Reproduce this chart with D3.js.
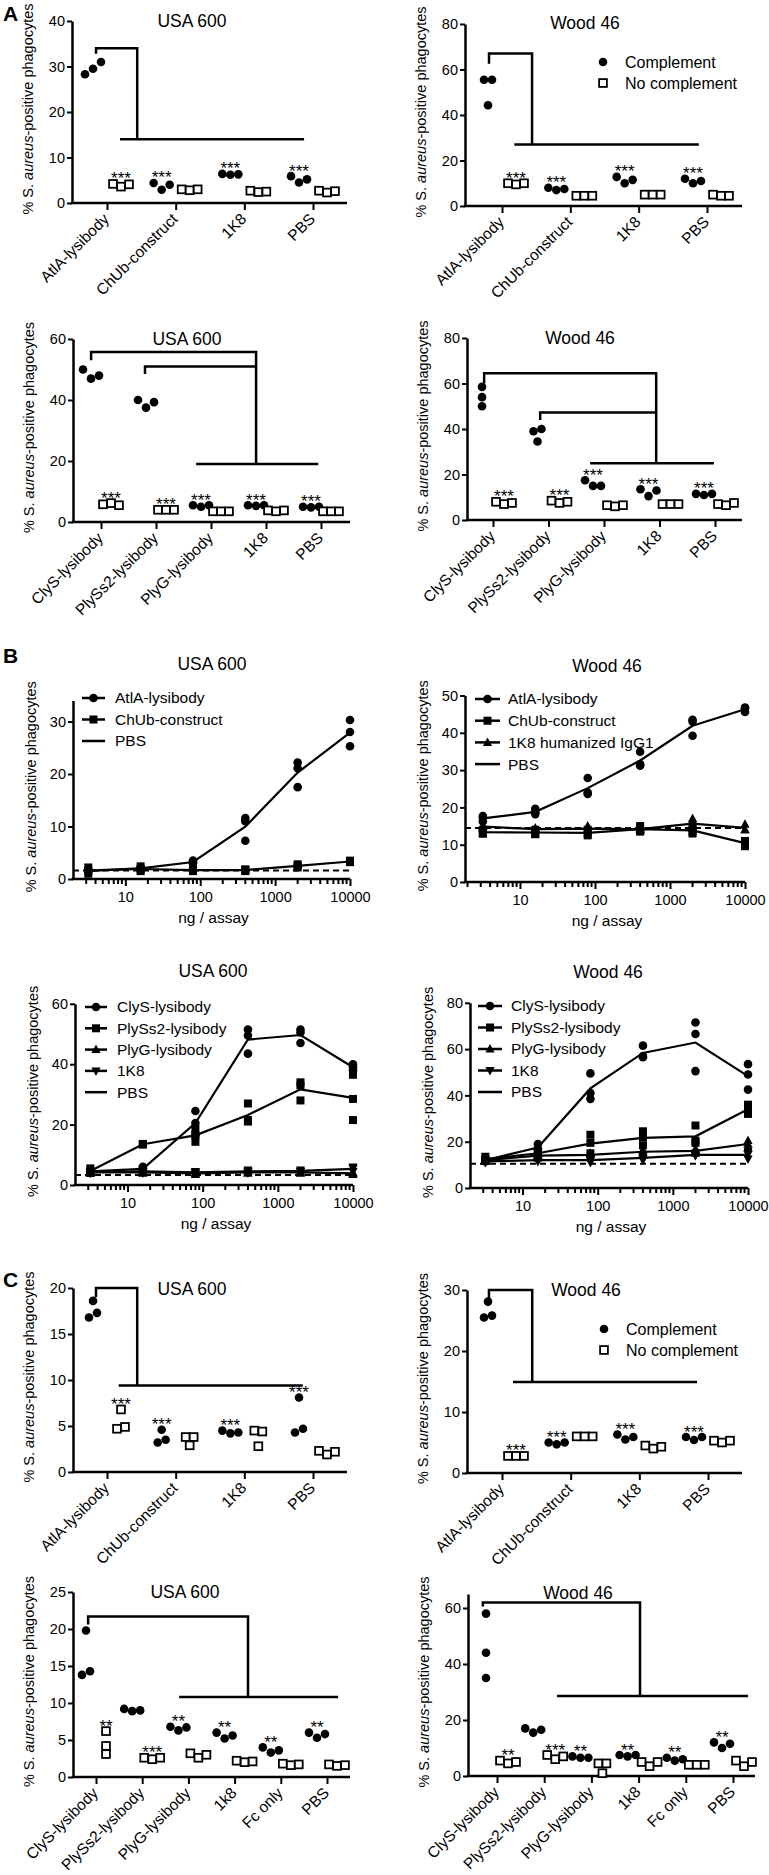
<!DOCTYPE html>
<html><head><meta charset="utf-8">
<script src="https://cdn.jsdelivr.net/npm/d3@7"></script>
<style>
body{margin:0;background:#fff}
svg{display:block}
text{font-family:"Liberation Sans",Arial,Helvetica,sans-serif;fill:#000}
</style>
</head><body>
<svg id="c" width="769" height="1875"></svg>
<script>
// ---------------- DATA ----------------
const catsAtl = ["AtlA-lysibody","ChUb-construct","1K8","PBS"];
const catsLys = ["ClyS-lysibody","PlySs2-lysibody","PlyG-lysibody","1K8","PBS"];
const catsLysC = ["ClyS-lysibody","PlySs2-lysibody","PlyG-lysibody","1k8","Fc only","PBS"];
const legendScatter = ["Complement","No complement"];

// A top-left USA 600
const a1Ticks = [0,10,20,30,40];
const a1Comp = [[28.3,29.5,31.0],[4.4,2.9,4.0],[6.4,6.2,6.3],[5.9,4.5,5.2]];
const a1NoComp = [[4.2,3.6,4.1],[3.0,2.8,3.0],[2.7,2.4,2.5],[2.7,2.3,2.6]];
const a1StarSide = ["n","c","c","c"];
const a1StarText = ["***","***","***","***"];
const a1Brackets = [[[-0.16,32.8],[-0.16,34],[0.44,34],[0.44,14]],[[0.19,14],[2.87,14]]];
// A top-right Wood 46
const a2Ticks = [0,20,40,60,80];
const a2Comp = [[55.5,44.3,55.5],[8.0,7.0,7.5],[12.8,10.0,11.5],[12.0,10.0,11.0]];
const a2NoComp = [[10.0,9.5,10.0],[4.5,4.5,4.5],[5.0,5.0,5.0],[5.0,4.5,4.5]];
const a2StarSide = ["n","c","c","c"];
const a2StarText = ["***","***","***","***"];
const a2Brackets = [[[-0.19,62.5],[-0.19,67],[0.44,67],[0.44,27]],[[0.18,27],[2.88,27]]];
// A bottom-left USA 600
const a3Ticks = [0,20,40,60];
const a3Comp = [[50,47,48],[40,37.5,39.3],[5.5,5.0,5.5],[5.5,5.3,5.5],[5.0,4.8,5.0]];
const a3NoComp = [[5.8,6.2,5.5],[4.0,4.0,4.0],[3.5,3.5,3.5],[3.8,3.5,3.8],[3.5,3.5,3.5]];
const a3StarSide = ["n","n","c","c","c"];
const a3StarText = ["***","***","***","***","***"];
const a3Brackets = [[[-0.18,53],[-0.18,55.7],[2.82,55.7],[2.82,19]],[[0.8,48.5],[0.8,51],[2.82,51]],[[1.73,19],[3.95,19]]];
// A bottom-right Wood 46
const a4Ticks = [0,20,40,60,80];
const a4Comp = [[50,54,58.5],[34.5,39,40],[17.5,15,15],[13.5,10.5,13],[11.5,11,11.5]];
const a4NoComp = [[8,7,7.5],[8.5,7.5,8],[6.5,6,6.5],[7,7,7],[7,6.5,7.5]];
const a4StarSide = ["n","n","c","c","c"];
const a4StarText = ["***","***","***","***","***"];
const a4Brackets = [[[-0.16,60],[-0.16,64.5],[2.94,64.5],[2.94,25]],[[0.85,44],[0.85,47.2],[2.94,47.2]],[[1.75,25],[3.98,25]]];

// B dose-response
const doses = [3.2,16,80,400,2000,10000];
const logTicks = [10,100,1000,10000];
const b1Ticks = [0,10,20,30];
const b1AtlA = [[1.5,1.8,1.5],[2.0,2.3,1.8],[3.5,3.0,3.2],[11.0,7.3,11.6],[22.2,21.1,17.5],[30.3,28.0,25.3]];
const b1ChUb = [[2.2,1.5,1.0],[2.4,1.5,1.8],[1.8,1.5,1.8],[1.8,1.5,1.8],[2.8,2.2,2.5],[3.5,3.2,3.3]];
const b1PBS = 1.6;
const b1Names = ["AtlA-lysibody","ChUb-construct","PBS"];

const b2Ticks = [0,10,20,30,40,50];
const b2AtlA = [[17.7,16.2,17.2],[19.6,18.2,18.6],[27.9,23.6,24.0],[34.9,31.6,31.2],[43.5,43.0,39.2],[46.6,45.6,46.8]];
const b2ChUb = [[13.0,14.0,13.0],[13.0,14.0,12.8],[13.0,12.5,14.0],[15.0,14.0,13.5],[14.0,13.0,14.5],[10.7,9.6,11.0]];
const b2K8 = [[15.0,14.5,15.0],[14.5,14.0,14.0],[15.0,14.0,14.0],[14.5,14.0,14.0],[17.0,16.5,13.5],[15.5,14.0,14.0]];
const b2PBS = 14.5;
const b2Names = ["AtlA-lysibody","ChUb-construct","1K8 humanized IgG1","PBS"];

const b3Ticks = [0,20,40,60];
const b3ClyS = [[4.0,5.0,4.5],[6.0,5.5,4.5],[24.5,20.5,16.5],[51.5,49.5,43.5],[51.5,50.5,47.0],[40.0,39.0,38.0]];
const b3PlySs2 = [[5.5,4.5,4.0],[13.5,13.6,13.4],[18.5,16.5,14.3],[27.0,21.0,21.5],[34.0,33.0,28.0],[36.5,28.5,21.5]];
const b3PlyG = [[4.0,4.5,4.0],[4.0,4.5,4.0],[4.0,3.5,4.0],[4.5,4.0,4.0],[4.0,4.5,4.0],[4.0,3.5,4.0]];
const b3K8 = [[4.5,4.0,4.5],[4.5,4.0,5.0],[4.0,4.0,4.5],[4.5,5.0,4.0],[4.5,5.0,4.5],[5.5,6.0,4.5]];
const b3PBS = 3.3;
const b3Names = ["ClyS-lysibody","PlySs2-lysibody","PlyG-lysibody","1K8","PBS"];

const b4Ticks = [0,20,40,60,80];
const b4ClyS = [[12.0,12.5,11.5],[19.0,17.0,16.5],[49.5,41.0,38.5],[61.5,56.5,57.0],[71.5,66.5,50.5],[53.5,49.0,42.5]];
const b4PlySs2 = [[13.5,12.0,12.0],[15.0,14.0,16.0],[23.0,19.5,15.0],[24.5,22.0,18.5],[27.0,20.5,19.5],[36.0,34.0,32.0]];
const b4PlyG = [[12.0,12.5,11.5],[15.0,14.0,13.0],[15.0,14.5,13.5],[16.5,15.5,15.0],[17.0,16.0,15.0],[20.5,19.0,17.5]];
const b4K8 = [[12.0,11.0,11.5],[12.5,12.0,11.5],[13.0,12.0,11.0],[14.0,13.0,12.0],[15.0,14.0,14.0],[16.0,14.5,12.5]];
const b4PBS = 10.5;
const b4Names = ["ClyS-lysibody","PlySs2-lysibody","PlyG-lysibody","1K8","PBS"];

// C
const c1Ticks = [0,5,10,15,20];
const c1Comp = [[16.8,17.3,18.6],[3.2,3.5,4.6],[4.5,4.2,4.3],[4.3,4.7,8.1]];
const c1NoComp = [[4.7,4.9,6.8],[3.8,2.9,3.8],[4.5,2.8,4.4],[2.3,1.9,2.2]];
const c1StarSide = ["n","c","c","c"];
const c1StarText = ["***","***","***","***"];
const c1Brackets = [[[-0.16,19],[-0.16,20],[0.44,20],[0.44,9.4]],[[0.17,9.4],[2.85,9.4]]];

const c2Ticks = [0,10,20,30];
const c2Comp = [[25.5,25.8,28.1],[5.0,4.7,5.0],[6.3,5.5,5.9],[5.9,5.4,5.9]];
const c2NoComp = [[2.8,2.8,2.8],[6.0,6.0,6.0],[4.5,4.0,4.3],[5.3,5.0,5.3]];
const c2StarSide = ["n","c","c","c"];
const c2StarText = ["***","***","***","***"];
const c2Brackets = [[[-0.19,28.6],[-0.19,30],[0.44,30],[0.44,14.9]],[[0.16,14.9],[2.84,14.9]]];

const c3Ticks = [0,5,10,15,20,25];
const c3Comp = [[13.8,14.3,19.8],[9.2,8.9,9.0],[6.8,6.3,6.7],[6.0,5.2,5.6],[4.0,3.3,3.6],[6.0,5.3,5.8]];
const c3NoComp = [[3.1,4.2,6.2],[2.6,2.4,2.6],[3.2,2.6,3.0],[2.2,2.0,2.1],[1.8,1.6,1.7],[1.7,1.5,1.6]];
const c3StarSide = ["n","n","c","c","c","c"];
const c3StarText = ["**","***","**","**","**","**"];
const c3Brackets = [[[-0.17,20.6],[-0.17,21.7],[3.29,21.7],[3.29,10.8]],[[1.8,10.8],[5.24,10.8]]];

const c4Ticks = [0,20,40,60];
const c4Comp = [[58,44,35],[17,15.5,16.5],[7,6.5,6.5],[7.5,7,7.5],[6.5,5.5,6],[12,10,11.5]];
const c4NoComp = [[5.5,4.5,5],[7.5,6,7],[4.5,1,4.5],[5,3.5,5],[4,4,4],[5.5,3.5,5]];
const c4StarSide = ["n","n","c","c","c","c"];
const c4StarText = ["**","***","**","**","**","**"];
const c4Brackets = [[[-0.3,60.5],[-0.3,62],[3.03,62],[3.03,28.6]],[[1.27,28.6],[5.32,28.6]]];

// ---------------- DRAW ----------------
const svg = d3.select("#c");
const AX_W = 2.5;

function yLabel(g, x, y) {
  const t = g.append("text").attr("transform", `translate(${x},${y}) rotate(-90)`)
    .attr("text-anchor","middle").attr("font-size",14.5);
  t.append("tspan").text("% S. ");
  t.append("tspan").attr("font-style","italic").text("aureus");
  t.append("tspan").text("-positive phagocytes");
}
function styleAxis(a) {
  a.attr("font-size",14.5);
  a.select(".domain").attr("stroke-width",AX_W).attr("stroke","#000");
  a.selectAll(".tick line").attr("stroke-width",2).attr("stroke","#000");
}
// spread overlapping replicates horizontally (keeps data order within a cluster)
function spread(vals, y, s, thr) {
  const items = vals.map((v,i) => ({v, i, py:y(v)})).sort((a,b)=>a.py-b.py);
  const clusters = []; let cur = [items[0]];
  for (let k=1;k<items.length;k++) {
    if (items[k].py - cur[cur.length-1].py < thr) cur.push(items[k]);
    else { clusters.push(cur); cur=[items[k]]; }
  }
  clusters.push(cur);
  const out = [];
  clusters.forEach(c => { c.sort((a,b)=>a.i-b.i); c.forEach((it,j)=> out.push({v:it.v, py:it.py, dx:(j-(c.length-1)/2)*s})); });
  return out;
}
function drawMarker(g, type, x, y) {
  if (type === "circle") g.append("circle").attr("cx",x).attr("cy",y).attr("r",4.3).attr("fill","#000");
  else if (type === "osquare") g.append("rect").attr("x",x-3.9).attr("y",y-3.9).attr("width",7.8).attr("height",7.8)
      .attr("fill","#fff").attr("stroke","#000").attr("stroke-width",1.8);
  else if (type === "square") g.append("rect").attr("x",x-4).attr("y",y-4).attr("width",8).attr("height",8).attr("fill","#000");
  else if (type === "tri") g.append("path").attr("d",`M${x},${y-5}L${x+4.6},${y+3.5}L${x-4.6},${y+3.5}Z`).attr("fill","#000");
  else if (type === "itri") g.append("path").attr("d",`M${x},${y+5}L${x+4.6},${y-3.5}L${x-4.6},${y-3.5}Z`).attr("fill","#000");
}

function scatterPanel(cfg) {
  const g = svg.append("g");
  const y = d3.scaleLinear().domain([0, cfg.yMax]).range([cfg.y0, cfg.yTop]);
  const xP = d3.scalePoint().domain(cfg.cats).range([cfg.c0, cfg.c1]);
  const xI = d3.scaleLinear().domain([0, cfg.cats.length-1]).range([cfg.c0, cfg.c1]);
  const ya = g.append("g").attr("transform",`translate(${cfg.axisX},0)`)
    .call(d3.axisLeft(y).tickValues(cfg.ticks).tickSize(5).tickSizeOuter(0).tickPadding(2));
  styleAxis(ya);
  g.append("line").attr("x1",cfg.axisX-AX_W/2).attr("x2",cfg.xEnd).attr("y1",cfg.y0).attr("y2",cfg.y0)
    .attr("stroke","#000").attr("stroke-width",AX_W);
  const xa = g.append("g").attr("transform",`translate(0,${cfg.y0})`)
    .call(d3.axisBottom(xP).tickSize(7).tickSizeOuter(0).tickFormat(""));
  xa.select(".domain").remove();
  xa.selectAll(".tick line").attr("stroke-width",2);
  g.selectAll(".xl").data(cfg.cats).join("text")
    .attr("transform", d => `translate(${xP(d)+3},${cfg.y0+17}) rotate(-45)`)
    .attr("text-anchor","end").attr("font-size",15.5).text(d => d);
  yLabel(g, cfg.axisX-39, (cfg.y0+cfg.yTop)/2 - 3);
  g.append("text").attr("x",cfg.titleX).attr("y",cfg.titleY).attr("text-anchor","middle").attr("font-size",17.5).text(cfg.title);
  const line = d3.line().x(d => xI(d[0])).y(d => y(d[1]));
  cfg.brackets.forEach(b => g.append("path").attr("d", line(b)).attr("fill","none").attr("stroke","#000").attr("stroke-width",2.5));
  cfg.cats.forEach((c,i) => {
    const cx = xP(c) - cfg.d, nx = xP(c) + cfg.d;
    spread(cfg.comp[i], y, 8, 7).forEach(p => drawMarker(g, "circle", cx+p.dx, p.py));
    spread(cfg.noComp[i], y, 8, 7).forEach(p => drawMarker(g, "osquare", nx+p.dx, p.py));
    const side = cfg.starSide[i];
    const vals = side === "c" ? cfg.comp[i] : cfg.noComp[i];
    const sx = side === "c" ? cx : nx;
    g.append("text").attr("x", sx).attr("y", y(d3.max(vals))+0.5).attr("text-anchor","middle")
      .attr("font-size",17).text(cfg.starText[i]);
  });
  if (cfg.legend) {
    const L = cfg.legend;
    drawMarker(g, "circle", L.x, L.y);
    drawMarker(g, "osquare", L.x, L.y + 21);
    legendScatter.forEach((t,k) => g.append("text").attr("x",L.tx).attr("y",L.y + k*21).attr("dy","0.35em")
      .attr("font-size",16).text(t));
  }
}

function linePanel(cfg) {
  const g = svg.append("g");
  const y = d3.scaleLinear().domain([0, cfg.yAxisTop]).range([cfg.y0, cfg.y0 - cfg.yAxisTop*cfg.pxPerUnit]);
  const x = d3.scaleLog().domain([cfg.xMin, 10000]).range([cfg.axisX, cfg.xEnd]);
  const ya = g.append("g").attr("transform",`translate(${cfg.axisX},0)`)
    .call(d3.axisLeft(y).tickValues(cfg.ticks).tickSize(5).tickSizeOuter(0).tickPadding(2));
  styleAxis(ya);
  const xa = g.append("g").attr("transform",`translate(0,${cfg.y0})`)
    .call(d3.axisBottom(x).tickValues(logTicks).tickFormat(d3.format("d")).tickSize(7).tickSizeOuter(0).tickPadding(6));
  styleAxis(xa);
  xa.select(".domain").attr("d", `M${cfg.axisX-AX_W/2},0H${cfg.xEnd}`);
  const minors = [];
  for (let k=0;k<4;k++) for (let m=2;m<10;m++) { const v = m*Math.pow(10,k); if (v>cfg.xMin && v<10000) minors.push(v); }
  g.selectAll(".mn").data(minors).join("line").attr("x1",d=>x(d)).attr("x2",d=>x(d))
    .attr("y1",cfg.y0).attr("y2",cfg.y0+5).attr("stroke","#000").attr("stroke-width",2);
  g.append("text").attr("x",(cfg.axisX+cfg.xEnd)/2+2).attr("y",cfg.y0+44).attr("text-anchor","middle").attr("font-size",15.5).text("ng / assay");
  yLabel(g, cfg.axisX-37, (cfg.y0 + y(cfg.yAxisTop))/2 - 3);
  g.append("text").attr("x",cfg.titleX).attr("y",cfg.titleY).attr("text-anchor","middle").attr("font-size",17.5).text(cfg.title);
  g.append("line").attr("x1",x(cfg.xMin)).attr("x2",x(10000)).attr("y1",y(cfg.pbs)).attr("y2",y(cfg.pbs))
    .attr("stroke","#000").attr("stroke-width",2).attr("stroke-dasharray","6,4");
  const ln = d3.line().x(d => x(d[0])).y(d => y(d[1]));
  cfg.series.forEach(s => {
    const means = doses.map((d,i) => [d, d3.mean(s.pts[i])]);
    g.append("path").attr("d", ln(means)).attr("fill","none").attr("stroke","#000").attr("stroke-width",2.2);
    doses.forEach((d,i) => s.pts[i].forEach(v => drawMarker(g, s.marker, x(d), y(v))));
  });
  const L = cfg.legend;
  cfg.names.forEach((n,k) => {
    const ly = L.y + k*L.dy;
    g.append("line").attr("x1",L.x1).attr("x2",L.x2).attr("y1",ly).attr("y2",ly).attr("stroke","#000").attr("stroke-width",2.5);
    const mk = k < cfg.series.length ? cfg.series[k].marker : null;
    if (mk) drawMarker(g, mk, (L.x1+L.x2)/2, ly);
    g.append("text").attr("x",L.tx).attr("y",ly).attr("dy","0.35em").attr("font-size",15.5).text(n);
  });
}

[["A",21],["B",663],["C",1287]].forEach(([t,yy]) =>
  svg.append("text").attr("x",3).attr("y",yy).attr("font-size",21).attr("font-weight","bold").text(t));

// A
scatterPanel({cats:catsAtl, axisX:72, xEnd:347, y0:203, yTop:21, yMax:40, ticks:a1Ticks, c0:107, c1:313, d:14,
  comp:a1Comp, noComp:a1NoComp, starSide:a1StarSide, starText:a1StarText, brackets:a1Brackets,
  title:"USA 600", titleX:192, titleY:27});
scatterPanel({cats:catsAtl, axisX:465, xEnd:742, y0:206, yTop:24, yMax:80, ticks:a2Ticks, c0:502, c1:707, d:14,
  comp:a2Comp, noComp:a2NoComp, starSide:a2StarSide, starText:a2StarText, brackets:a2Brackets,
  title:"Wood 46", titleX:585, titleY:29, legend:{x:603, y:62, tx:625}});
scatterPanel({cats:catsLys, axisX:73, xEnd:350, y0:522, yTop:339, yMax:60, ticks:a3Ticks, c0:101, c1:321, d:10,
  comp:a3Comp, noComp:a3NoComp, starSide:a3StarSide, starText:a3StarText, brackets:a3Brackets,
  title:"USA 600", titleX:187, titleY:345});
scatterPanel({cats:catsLys, axisX:467, xEnd:742, y0:520, yTop:338, yMax:80, ticks:a4Ticks, c0:493, c1:715, d:11,
  comp:a4Comp, noComp:a4NoComp, starSide:a4StarSide, starText:a4StarText, brackets:a4Brackets,
  title:"Wood 46", titleX:580, titleY:344});

// B
linePanel({axisX:73, xEnd:350, xMin:2, y0:879, pxPerUnit:5.25, yAxisTop:34, ticks:b1Ticks, pbs:b1PBS,
  series:[{pts:b1AtlA, marker:"circle"},{pts:b1ChUb, marker:"square"}], names:b1Names,
  legend:{x1:82, x2:105, tx:115, y:698, dy:21.5}, title:"USA 600", titleX:212, titleY:670});
linePanel({axisX:465, xEnd:745, xMin:1.85, y0:882, pxPerUnit:3.73, yAxisTop:50, ticks:b2Ticks, pbs:b2PBS,
  series:[{pts:b2AtlA, marker:"circle"},{pts:b2ChUb, marker:"square"},{pts:b2K8, marker:"tri"}], names:b2Names,
  legend:{x1:475, x2:500, tx:508, y:699, dy:21.7}, title:"Wood 46", titleX:607, titleY:672});
linePanel({axisX:75, xEnd:353, xMin:2, y0:1185, pxPerUnit:3.02, yAxisTop:60, ticks:b3Ticks, pbs:b3PBS,
  series:[{pts:b3ClyS, marker:"circle"},{pts:b3PlySs2, marker:"square"},{pts:b3PlyG, marker:"tri"},{pts:b3K8, marker:"itri"}], names:b3Names,
  legend:{x1:85, x2:107, tx:117, y:1007, dy:21.3}, title:"USA 600", titleX:213, titleY:977});
linePanel({axisX:470, xEnd:748, xMin:2, y0:1188, pxPerUnit:2.315, yAxisTop:80, ticks:b4Ticks, pbs:b4PBS,
  series:[{pts:b4ClyS, marker:"circle"},{pts:b4PlySs2, marker:"square"},{pts:b4PlyG, marker:"tri"},{pts:b4K8, marker:"itri"}], names:b4Names,
  legend:{x1:478, x2:502, tx:511, y:1006, dy:21.5}, title:"Wood 46", titleX:608, titleY:978});

// C
scatterPanel({cats:catsAtl, axisX:73, xEnd:347, y0:1472, yTop:1288, yMax:20, ticks:c1Ticks, c0:107, c1:313, d:14,
  comp:c1Comp, noComp:c1NoComp, starSide:c1StarSide, starText:c1StarText, brackets:c1Brackets,
  title:"USA 600", titleX:192, titleY:1295});
scatterPanel({cats:catsAtl, axisX:467, xEnd:742, y0:1473, yTop:1290, yMax:30, ticks:c2Ticks, c0:502, c1:708, d:14,
  comp:c2Comp, noComp:c2NoComp, starSide:c2StarSide, starText:c2StarText, brackets:c2Brackets,
  title:"Wood 46", titleX:586, titleY:1296, legend:{x:604, y:1329, tx:626}});
scatterPanel({cats:catsLysC, axisX:73, xEnd:350, y0:1777, yTop:1592, yMax:25, ticks:c3Ticks, c0:96, c1:327, d:10,
  comp:c3Comp, noComp:c3NoComp, starSide:c3StarSide, starText:c3StarText, brackets:c3Brackets,
  title:"USA 600", titleX:185, titleY:1598});
scatterPanel({cats:catsLysC, axisX:468, xEnd:755, y0:1776, yTop:1594, yMax:65, ticks:c4Ticks, c0:497, c1:733, d:11,
  comp:c4Comp, noComp:c4NoComp, starSide:c4StarSide, starText:c4StarText, brackets:c4Brackets,
  title:"Wood 46", titleX:578, titleY:1599});
</script>
</body></html>
